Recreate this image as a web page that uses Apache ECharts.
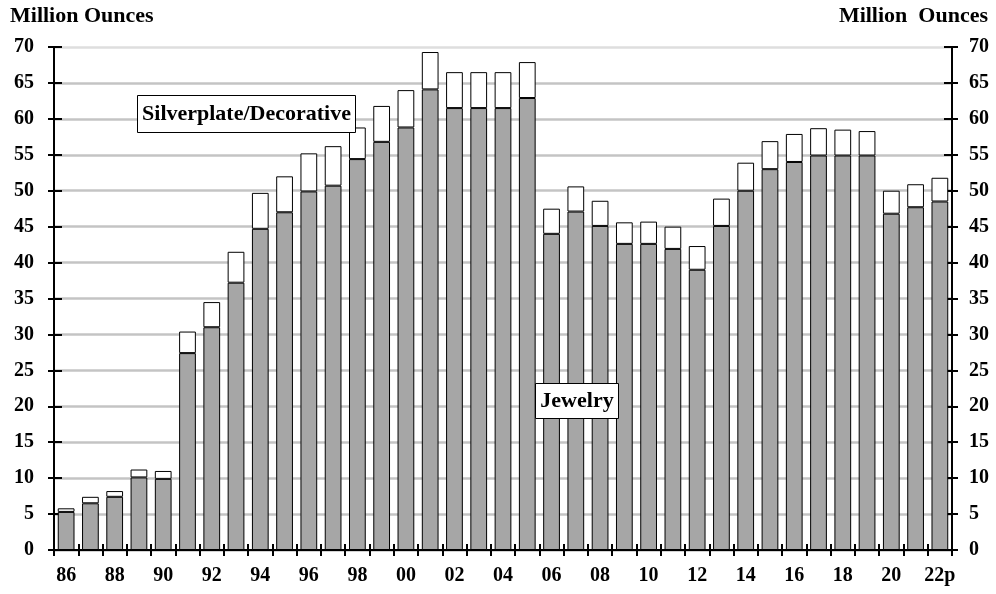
<!DOCTYPE html>
<html><head><meta charset="utf-8">
<script src="https://cdn.jsdelivr.net/npm/echarts@6/dist/echarts.min.js"></script>
<style>html,body{margin:0;padding:0;background:#fff}#c{width:996px;height:594px}</style>
</head><body><div id="c"></div>
<script>
var categories = ['86','87','88','89','90','91','92','93','94','95','96','97','98','99','00','01','02','03','04','05','06','07','08','09','10','11','12','13','14','15','16','17','18','19','20','21','22p'];
var jewelry = [5.3,6.5,7.4,10.1,9.9,27.4,31.0,37.2,44.7,47.0,49.9,50.7,54.4,56.8,58.8,64.1,61.5,61.5,61.5,62.9,44.0,47.1,45.1,42.6,42.6,41.9,39.0,45.1,50.0,53.0,54.0,54.9,54.9,54.9,46.8,47.7,48.5];
var totals = [5.8,7.4,8.2,11.2,11.0,30.4,34.5,41.5,49.7,52.0,55.2,56.2,58.8,61.8,64.0,69.3,66.5,66.5,66.5,67.9,47.5,50.6,48.6,45.6,45.7,45.0,42.3,48.9,53.9,56.9,57.9,58.7,58.5,58.3,50.0,50.9,51.8];
var silverplate = totals.map(function(t,i){return +(t - jewelry[i]).toFixed(2);});
var yTicks = {min:0, max:70, interval:5};

var font = 'Liberation Serif';
var chart = echarts.init(document.getElementById('c'), null, {renderer:'canvas'});
var gridColors = [];
for (var k=0;k<15;k++) gridColors.push(k===14 ? '#dedede' : '#c4c4c4');
function yAx(pos, inside, labels, split){
  return {type:'value', position:pos, min:yTicks.min, max:yTicks.max, interval:yTicks.interval,
    axisLine:{show:true, lineStyle:{color:'#000', width:2}},
    axisTick:{show:true, inside:inside, length:inside?8:6, lineStyle:{color:'#000', width:2}},
    axisLabel:{show:labels, color:'#000', fontFamily:font, fontWeight:'bold', fontSize:20, margin: pos==='left'?20:17},
    splitLine:{show:split, lineStyle:{color:gridColors, width:2.5}}};
}
function xAx(inside, labels){
  return {type:'category', position:'bottom', data:categories,
    axisLine:{show:true, lineStyle:{color:'#000', width:2}},
    axisTick:{show:true, inside:inside, length:6, interval:0, lineStyle:{color:'#000', width:2}},
    axisLabel:{show:labels, interval:1, color:'#000', fontFamily:font, fontWeight:'bold', fontSize:20, margin:16},
    splitLine:{show:false}};
}
chart.setOption({
  animation:false,
  backgroundColor:'#fff',
  grid:{left:54, right:44, top:47, bottom:44},
  xAxis:[xAx(false,true), xAx(true,false)],
  yAxis:[yAx('left',false,true,true), yAx('left',true,false,false), yAx('right',false,true,false), yAx('right',true,false,false)],
  series:[
    {name:'Jewelry', type:'bar', stack:'a', data:jewelry, barWidth:'69%', xAxisIndex:0, yAxisIndex:0,
     itemStyle:{color:'#a6a6a6', borderColor:'#000', borderWidth:1}},
    {name:'Silverplate/Decorative', type:'bar', stack:'a', data:silverplate, barWidth:'69%', xAxisIndex:0, yAxisIndex:0,
     itemStyle:{color:'#fff', borderColor:'#000', borderWidth:1}}
  ],
  graphic:[
    {type:'text', left:10, top:5, z:100, style:{text:'Million Ounces', font:'bold 22px "Liberation Serif"', fill:'#000'}},
    {type:'text', right:8, top:5, z:100, style:{text:'Million  Ounces', font:'bold 22px "Liberation Serif"', fill:'#000'}},
    {type:'group', left:137, top:95, z:100, children:[
      {type:'rect', z:100, shape:{x:0,y:0,width:218,height:37}, style:{fill:'#fff', stroke:'#000', lineWidth:1}},
      {type:'text', z:101, x:109, y:19, style:{text:'Silverplate/Decorative', font:'bold 22px "Liberation Serif"', fill:'#000', align:'center', verticalAlign:'middle'}}
    ]},
    {type:'group', left:535, top:383, z:100, children:[
      {type:'rect', z:100, shape:{x:0,y:0,width:83,height:35}, style:{fill:'#fff', stroke:'#000', lineWidth:1}},
      {type:'text', z:101, x:41.5, y:18, style:{text:'Jewelry', font:'bold 22px "Liberation Serif"', fill:'#000', align:'center', verticalAlign:'middle'}}
    ]}
  ]
});
</script></body></html>
